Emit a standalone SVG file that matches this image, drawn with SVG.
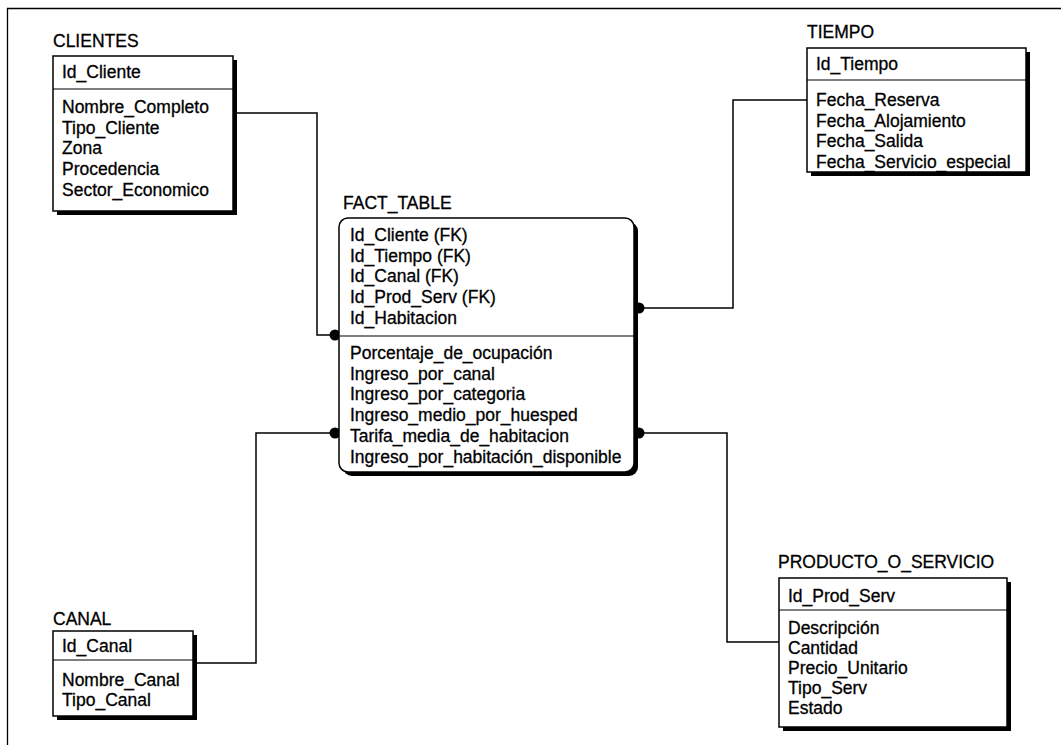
<svg xmlns="http://www.w3.org/2000/svg" width="1061" height="745" viewBox="0 0 1061 745">
  <style>
    text { font-family: "Liberation Sans", Arial, sans-serif; font-size: 17.5px; fill: #000; stroke: #000; stroke-width: 0.3; }
    .box { fill: #fff; stroke: #000; stroke-width: 1.5; }
    .shadow { fill: #000; }
    .div { stroke: #000; stroke-width: 1.2; }
    .link { fill: none; stroke: #000; stroke-width: 1.5; }
    .dot { fill: #000; }
    .frame { fill: none; stroke: #000; stroke-width: 1.3; }
  </style>
  <rect width="1061" height="745" fill="#fff"/>

  <!-- page frame (left and top edges) -->
  <path class="frame" d="M7.5,745 V8.5 H1061"/>

  <!-- relationship lines -->
  <g id="connectors">
    <path class="link" d="M233,113 H317 V335 H337"/>
    <path class="link" d="M193,663 H256 V433 H337"/>
    <path class="link" d="M807,100 H733 V308 H636"/>
    <path class="link" d="M779,642 H727 V433 H636"/>
    <circle class="dot" cx="335" cy="335" r="5.5"/>
    <circle class="dot" cx="335" cy="433" r="5.5"/>
    <circle class="dot" cx="639" cy="308" r="5.5"/>
    <circle class="dot" cx="639" cy="433" r="5.5"/>
  </g>

  <g id="clientes">
    <text x="53" y="47">CLIENTES</text>
    <rect class="shadow" x="57" y="60" width="180" height="155"/>
    <rect class="box" x="53" y="56" width="180" height="155"/>
    <line class="div" x1="53" y1="89" x2="233" y2="89"/>
    <text x="62" y="78">Id_Cliente</text>
    <text x="62" y="113">Nombre_Completo</text>
    <text x="62" y="133.7">Tipo_Cliente</text>
    <text x="62" y="154.4">Zona</text>
    <text x="62" y="175.1">Procedencia</text>
    <text x="62" y="195.8">Sector_Economico</text>
  </g>

  <g id="tiempo">
    <text x="807" y="38">TIEMPO</text>
    <rect class="shadow" x="811" y="52" width="219" height="124"/>
    <rect class="box" x="807" y="48" width="219" height="124"/>
    <line class="div" x1="807" y1="80" x2="1026" y2="80"/>
    <text x="816" y="70">Id_Tiempo</text>
    <text x="816" y="106">Fecha_Reserva</text>
    <text x="816" y="126.7">Fecha_Alojamiento</text>
    <text x="816" y="147.4">Fecha_Salida</text>
    <text x="816" y="168.1">Fecha_Servicio_especial</text>
  </g>

  <g id="fact_table">
    <text x="343" y="209">FACT_TABLE</text>
    <rect class="shadow" x="343" y="222" width="295" height="254" rx="9"/>
    <rect class="box" x="339" y="218" width="295" height="254" rx="9"/>
    <line class="div" x1="339" y1="336" x2="634" y2="336"/>
    <text x="350" y="241">Id_Cliente (FK)</text>
    <text x="350" y="261.7">Id_Tiempo (FK)</text>
    <text x="350" y="282.4">Id_Canal (FK)</text>
    <text x="350" y="303.1">Id_Prod_Serv (FK)</text>
    <text x="350" y="323.8">Id_Habitacion</text>
    <text x="350" y="359">Porcentaje_de_ocupación</text>
    <text x="350" y="379.7">Ingreso_por_canal</text>
    <text x="350" y="400.4">Ingreso_por_categoria</text>
    <text x="350" y="421.1">Ingreso_medio_por_huesped</text>
    <text x="350" y="441.8">Tarifa_media_de_habitacion</text>
    <text x="350" y="462.5">Ingreso_por_habitación_disponible</text>
  </g>

  <g id="canal">
    <text x="53" y="625">CANAL</text>
    <rect class="shadow" x="57" y="635" width="140" height="85"/>
    <rect class="box" x="53" y="631" width="140" height="85"/>
    <line class="div" x1="53" y1="660" x2="193" y2="660"/>
    <text x="62" y="652">Id_Canal</text>
    <text x="62" y="686">Nombre_Canal</text>
    <text x="62" y="706">Tipo_Canal</text>
  </g>

  <g id="producto_o_servicio">
    <text x="778" y="568">PRODUCTO_O_SERVICIO</text>
    <rect class="shadow" x="783" y="582" width="228" height="149"/>
    <rect class="box" x="779" y="578" width="228" height="149"/>
    <line class="div" x1="779" y1="610" x2="1007" y2="610"/>
    <text x="788" y="602">Id_Prod_Serv</text>
    <text x="788" y="634">Descripción</text>
    <text x="788" y="654">Cantidad</text>
    <text x="788" y="674">Precio_Unitario</text>
    <text x="788" y="694">Tipo_Serv</text>
    <text x="788" y="714">Estado</text>
  </g>
</svg>
